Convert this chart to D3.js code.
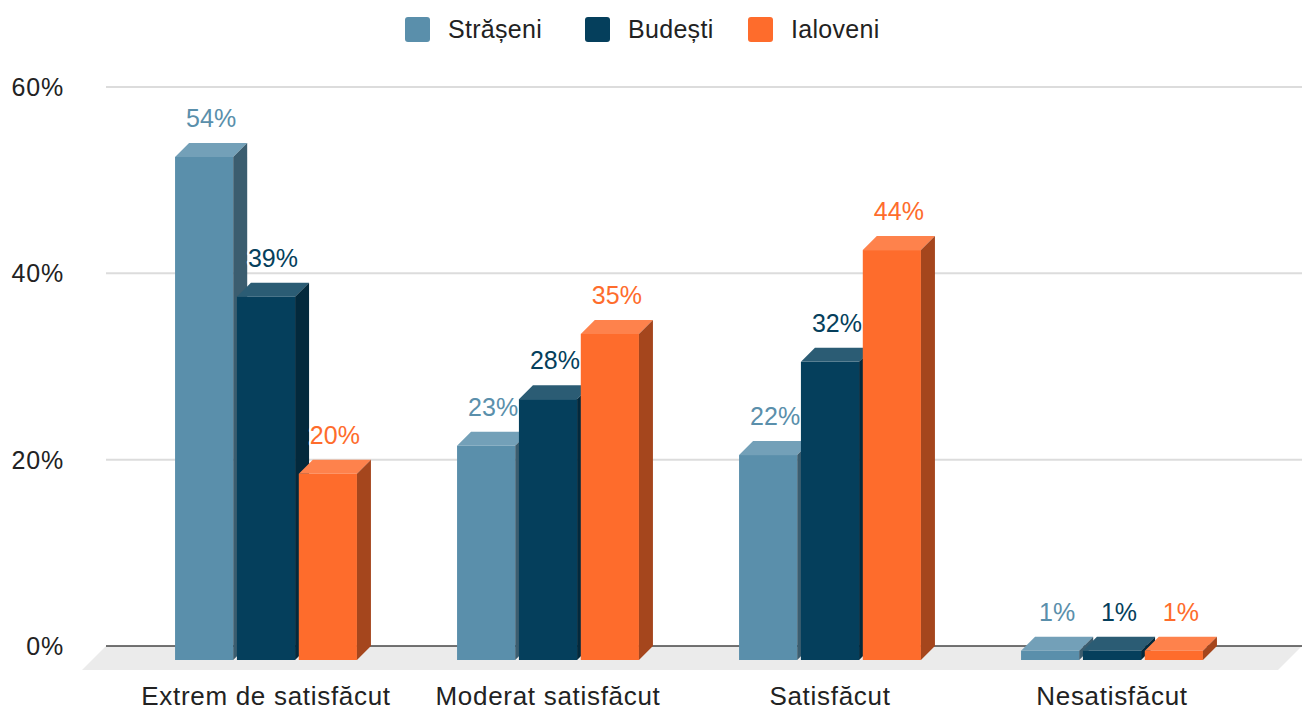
<!DOCTYPE html>
<html>
<head>
<meta charset="utf-8">
<title>Satisfacție</title>
<script src="https://d3js.org/d3.v7.min.js"></script>
<style>
  body { margin: 0; background: #fff; }
  svg { display: block; font-family: "Liberation Sans", Arial, sans-serif; }
  .val { font-size: 25px; paint-order: stroke; stroke: #fff; stroke-width: 4px; stroke-linejoin: round; }
</style>
</head>
<body>
<div id="chart"></div>
<script>
const categories = ["Extrem de satisfăcut", "Moderat satisfăcut", "Satisfăcut", "Nesatisfăcut"];
const seriesNames = ["Strășeni", "Budești", "Ialoveni"];
const straseni = [54, 23, 22, 1];
const budesti = [39, 28, 32, 1];
const ialoveni = [20, 35, 44, 1];
const yTicks = [0, 20, 40, 60];

const width = 1302, height = 711;
const colors = ["#5a8fab", "#053f5c", "#fe6c2c"];
const tops = colors.map(c => d3.interpolateRgb(c, "#fff")(0.15));
const sides = colors.map(c => d3.interpolateRgb(c, "#000")(0.35));
const depth = 14;

const svg = d3.select("#chart").append("svg")
  .attr("width", width).attr("height", height);

const y = d3.scaleLinear().domain([0, 60]).range([646, 87]);
const x = d3.scaleBand().domain(categories).range([125, 1253])
  .paddingInner(0.355).paddingOuter(0.1775);
const xs = d3.scaleBand().domain(seriesNames).range([0, x.bandwidth()]).paddingInner(0.06);

// floor
svg.append("polygon")
  .attr("points", [[106, 646], [1302, 646], [1278, 670], [82, 670]].join(" "))
  .attr("fill", "#ebebeb");

// grid
svg.append("g").selectAll("line").data(yTicks).join("line")
  .attr("x1", 106).attr("x2", width)
  .attr("y1", d => y(d)).attr("y2", d => y(d))
  .attr("stroke", d => d === 0 ? "#444" : "#dcdcdc")
  .attr("stroke-width", d => d === 0 ? 1.5 : 2);

svg.append("g").selectAll("text").data(yTicks).join("text")
  .attr("x", 64).attr("y", d => y(d) + 9)
  .attr("text-anchor", "end").attr("font-size", 25).attr("letter-spacing", 0.8).attr("fill", "#222")
  .text(d => d + "%");

const data = [];
categories.forEach((c, i) => {
  [straseni, budesti, ialoveni].forEach((arr, j) => {
    data.push({ cat: c, s: seriesNames[j], j: j, v: arr[i] });
  });
});

const bars = svg.append("g").selectAll("g").data(data).join("g");
bars.each(function(d) {
  const g = d3.select(this);
  const x0 = x(d.cat) + xs(d.s), w = xs.bandwidth();
  const yt = y(d.v) + depth, yb = y(0) + depth;
  g.append("rect").attr("x", x0).attr("y", yt).attr("width", w).attr("height", yb - yt)
    .attr("fill", colors[d.j]);
  g.append("polygon")
    .attr("points", [[x0, yt], [x0 + depth, yt - depth], [x0 + w + depth, yt - depth], [x0 + w, yt]].join(" "))
    .attr("fill", tops[d.j]);
  g.append("polygon")
    .attr("points", [[x0 + w, yt], [x0 + w + depth, yt - depth], [x0 + w + depth, yb - depth], [x0 + w, yb]].join(" "))
    .attr("fill", sides[d.j]);
  g.append("text").attr("class", "val")
    .attr("x", x0 + w / 2 + depth / 2).attr("y", y(d.v) - 16)
    .attr("text-anchor", "middle").attr("fill", colors[d.j])
    .text(d.v + "%");
});

svg.append("g").selectAll("text").data(categories).join("text")
  .attr("x", d => x(d) + x.bandwidth() / 2).attr("y", 705)
  .attr("text-anchor", "middle").attr("font-size", 26).attr("letter-spacing", 0.7).attr("fill", "#222")
  .text(d => d);

// legend
const legendX = [405, 585, 748];
const lg = svg.append("g").selectAll("g").data(seriesNames).join("g")
  .attr("transform", (d, i) => `translate(${legendX[i]},17)`);
lg.append("rect").attr("width", 25).attr("height", 25).attr("rx", 3)
  .attr("fill", (d, i) => colors[i]);
lg.append("text").attr("x", 43).attr("y", 21).attr("font-size", 25).attr("letter-spacing", 0.3).attr("fill", "#222")
  .text(d => d);
</script>
</body>
</html>
